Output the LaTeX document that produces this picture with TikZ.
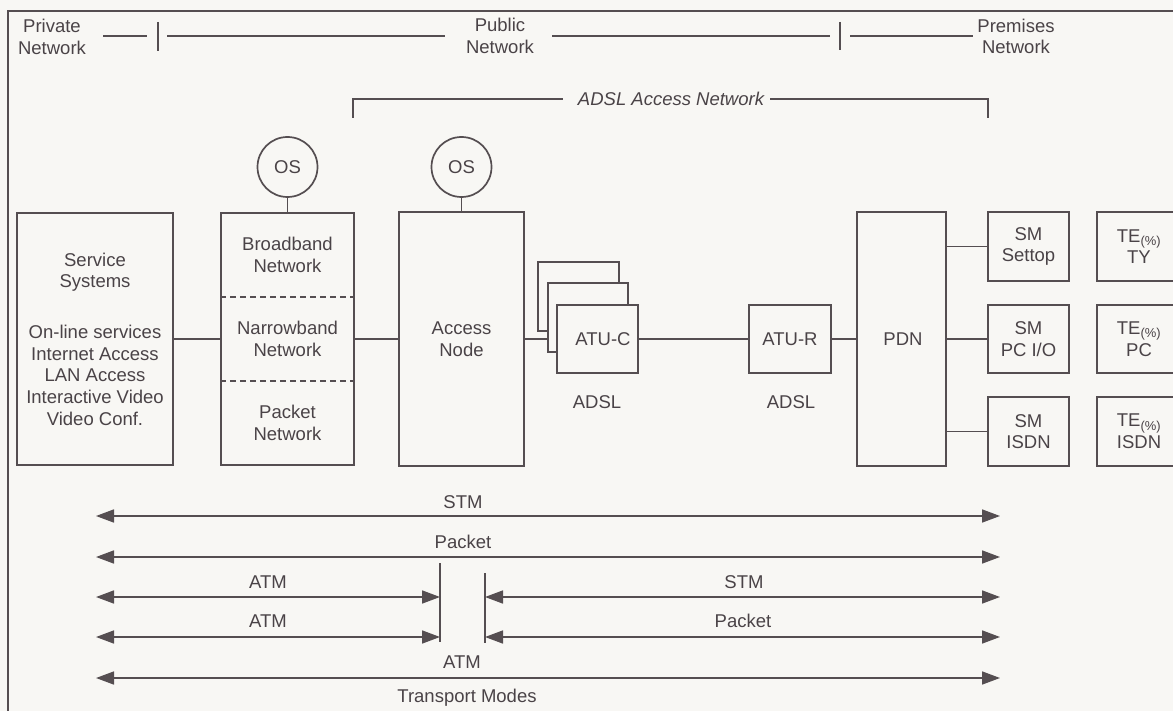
\documentclass[tikz,border=0pt]{standalone}
\usepackage{fontspec}
\setmainfont{Liberation Sans}
\usetikzlibrary{arrows.meta}
\definecolor{bgc}{HTML}{F8F7F4}
\definecolor{ink}{HTML}{554E51}
\definecolor{txt}{HTML}{4A4347}
\begin{document}
\begin{tikzpicture}[x=1pt,y=-1pt,
  every node/.style={text=txt, font=\fontsize{18.5}{21.7}\selectfont, align=center, inner sep=0pt},
  line/.style={draw=ink, line width=1.7pt},
  box/.style={draw=ink, line width=1.7pt, fill=bgc, rectangle},
  osc/.style={draw=ink, line width=1.7pt, fill=bgc, circle, minimum size=60pt},
  divider/.style={draw=ink, line width=1.3pt, dash pattern=on 6pt off 4pt},
  arr/.style={draw=ink, line width=1.6pt, {Triangle[length=18pt,width=13pt]}-{Triangle[length=18pt,width=13pt]}}
]
\clip (0,0) rectangle (1173,711);
\fill[bgc] (0,0) rectangle (1173,711);

% frame
\coordinate (fbl) at (8,711);
\coordinate (ftl) at (8,11);
\coordinate (ftr) at (1173,11);
\draw[line] (fbl) -- (ftl) -- (ftr);

% header
\node (priv) at (52,37) {Private\\Network};
\node (pub) at (500,36) {Public\\Network};
\node (prem) at (1016,36.5) {Premises\\Network};
\coordinate (h1) at (103,36);
\coordinate (h2) at (147,36);
\coordinate (t1a) at (158,22);
\coordinate (t1b) at (158,51);
\coordinate (h3) at (167,36);
\coordinate (h4) at (445,36);
\coordinate (h5) at (552,36);
\coordinate (h6) at (830,36);
\coordinate (t2a) at (840,22);
\coordinate (t2b) at (840,50);
\coordinate (h7) at (850,36);
\coordinate (h8) at (973,36);
\draw[line] (h1) -- (h2);
\draw[line] (t1a) -- (t1b);
\draw[line] (h3) -- (h4);
\draw[line] (h5) -- (h6);
\draw[line] (t2a) -- (t2b);
\draw[line] (h7) -- (h8);

% ADSL access network bracket
\node[font=\fontsize{18.5}{21.7}\selectfont\itshape] (adsl) at (671,99) {ADSL Access Network};
\coordinate (b1) at (353,118);
\coordinate (b2) at (353,99);
\coordinate (b3) at (563,99);
\coordinate (b4) at (770,99);
\coordinate (b5) at (988,99);
\coordinate (b6) at (988,118);
\draw[line] (b1) -- (b2) -- (b3);
\draw[line] (b4) -- (b5) -- (b6);

% service systems
\node[box, minimum width=156pt, minimum height=252pt] (svc) at (95,339)
  {Service\\Systems\\[29pt]On-line services\\Internet Access\\LAN Access\\Interactive Video\\Video Conf.};

% networks
\node[box, minimum width=133pt, minimum height=252pt] (net) at (287.5,339) {};
\draw[divider] (net.west |- 0,297) -- (net.east |- 0,297);
\draw[divider] (net.west |- 0,381) -- (net.east |- 0,381);
\node (bb) at (287.5,255) {Broadband\\Network};
\node (nb) at (287.5,339) {Narrowband\\Network};
\node (pk) at (287.5,423) {Packet\\Network};

% access node
\node[box, minimum width=125pt, minimum height=254pt] (acc) at (461.5,339) {Access\\Node};

% OS circles
\node[osc] (os1) at (287.5,167) {OS};
\node[osc] (os2) at (461.5,167) {OS};
\draw[line] (os1.south) -- (os1.south |- net.north);
\draw[line] (os2.south) -- (os2.south |- acc.north);

% ATU-C stack
\node[box, minimum width=81pt, minimum height=69pt] (atub2) at (578.5,296.5) {};
\node[box, minimum width=80pt, minimum height=69pt] (atub1) at (588,317.5) {};
\node[box, minimum width=81pt, minimum height=68pt] (atuc) at (597.5,339) {\hspace*{11pt}ATU-C};
\node (adslc) at (597,402) {ADSL};

% ATU-R
\node[box, minimum width=82pt, minimum height=68pt] (atur) at (790,339) {ATU-R};
\node (adslr) at (791,402) {ADSL};

% PDN
\node[box, minimum width=89pt, minimum height=254pt] (pdn) at (901.5,339) {\hspace*{3pt}PDN};

% SM boxes
\node[box, minimum width=81pt, minimum height=69pt] (sm1) at (1028.5,246.5) {SM\\Settop};
\node[box, minimum width=81pt, minimum height=68pt] (sm2) at (1028.5,339) {SM\\PC I/O};
\node[box, minimum width=81pt, minimum height=69pt] (sm3) at (1028.5,431.5) {SM\\ISDN};

% TE boxes
\node[box, minimum width=84pt, minimum height=69pt, text width=84pt] (te1) at (1139,246.5) {TE\textsubscript{(\%)}\\TY};
\node[box, minimum width=84pt, minimum height=68pt, text width=84pt] (te2) at (1139,339) {TE\textsubscript{(\%)}\\PC};
\node[box, minimum width=84pt, minimum height=69pt, text width=84pt] (te3) at (1139,431.5) {TE\textsubscript{(\%)}\\ISDN};

% connectors
\draw[line] (svc) -- (net);
\draw[line] (net) -- (acc);
\draw[line] (acc) -- (acc -| atub1.west);
\draw[line] (atuc) -- (atur);
\draw[line] (atur) -- (pdn);
\draw[line] (pdn.east |- sm1) -- (sm1);
\draw[line] (pdn.east |- sm2) -- (sm2);
\draw[line] (pdn.east |- sm3) -- (sm3);

% transport modes
\coordinate (r1l) at (96,516);
\coordinate (r1r) at (1000,516);
\coordinate (r2l) at (96,557);
\coordinate (r2r) at (1000,557);
\coordinate (r3l) at (96,597);
\coordinate (r3m) at (440,597);
\coordinate (r3n) at (485,597);
\coordinate (r3r) at (1000,597);
\coordinate (r4l) at (96,637);
\coordinate (r4m) at (440,637);
\coordinate (r4n) at (485,637);
\coordinate (r4r) at (1000,637);
\coordinate (r5l) at (96,678);
\coordinate (r5r) at (1000,678);
\coordinate (k1a) at (440,563);
\coordinate (k1b) at (440,642);
\coordinate (k2a) at (485,573);
\coordinate (k2b) at (485,643);

\draw[arr] (r1l) -- (r1r);
\draw[arr] (r2l) -- (r2r);
\draw[arr] (r3l) -- (r3m);
\draw[arr] (r3n) -- (r3r);
\draw[arr] (r4l) -- (r4m);
\draw[arr] (r4n) -- (r4r);
\draw[arr] (r5l) -- (r5r);
\draw[line] (k1a) -- (k1b);
\draw[line] (k2a) -- (k2b);

\node (l1) at (463,502) {STM};
\node (l2) at (463,542) {Packet};
\node (l3) at (268,582) {ATM};
\node (l4) at (744,582) {STM};
\node (l5) at (268,621) {ATM};
\node (l6) at (743,621) {Packet};
\node (l7) at (462,662) {ATM};
\node (l8) at (467,698) {Transport Modes};
\end{tikzpicture}
\end{document}
